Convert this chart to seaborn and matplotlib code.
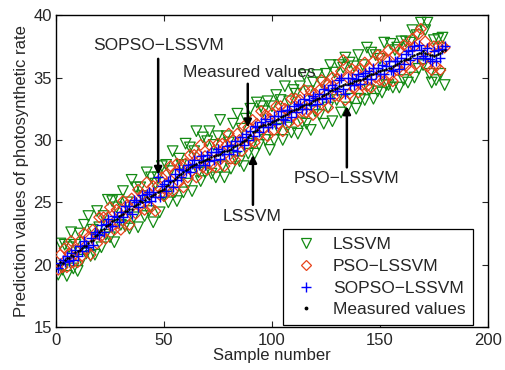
import numpy as np
import pandas as pd
import matplotlib
matplotlib.use("Agg")
import matplotlib.pyplot as plt
from matplotlib.lines import Line2D
import seaborn as sns

sample = list(range(1, 181))

measured = [
    20.0, 20.2, 20.1, 20.4, 20.5, 20.5, 20.8, 20.7, 21.0, 21.1,
    21.2, 21.3, 21.5, 21.5, 21.7, 21.9, 22.0, 22.3, 22.4, 22.6,
    22.8, 22.9, 23.1, 23.2, 23.3, 23.5, 23.6, 23.7, 23.9, 24.0,
    24.1, 24.3, 24.3, 24.5, 24.5, 24.7, 24.8, 24.9, 25.1, 25.0,
    25.2, 25.4, 25.3, 25.5, 25.6, 25.7, 25.8, 25.9, 26.0, 26.1,
    26.3, 26.4, 26.6, 26.7, 26.9, 27.0, 27.2, 27.3, 27.4, 27.6,
    27.7, 27.8, 27.9, 28.0, 28.1, 28.2, 28.2, 28.3, 28.4, 28.5,
    28.5, 28.6, 28.7, 28.8, 28.8, 28.9, 29.0, 29.1, 29.1, 29.2,
    29.3, 29.4, 29.5, 29.6, 29.7, 29.8, 29.9, 30.0, 30.2, 30.4,
    30.6, 30.7, 30.8, 31.0, 31.1, 31.2, 31.2, 31.3, 31.3, 31.4,
    31.5, 31.6, 31.7, 31.8, 31.9, 32.0, 32.1, 32.2, 32.3, 32.4,
    32.5, 32.5, 32.6, 32.7, 32.8, 32.9, 32.9, 33.0, 33.1, 33.2,
    33.3, 33.4, 33.5, 33.6, 33.7, 33.8, 33.9, 34.0, 34.1, 34.2,
    34.3, 34.3, 34.4, 34.5, 34.5, 34.6, 34.6, 34.7, 34.7, 34.8,
    34.8, 34.9, 35.0, 35.1, 35.2, 35.3, 35.3, 35.4, 35.5, 35.5,
    35.6, 35.6, 35.7, 35.8, 35.8, 35.9, 36.0, 36.1, 36.2, 36.3,
    36.4, 36.5, 36.5, 36.6, 36.7, 36.8, 36.9, 37.0, 37.0, 37.1,
    37.0, 36.9, 36.8, 36.8, 36.7, 36.8, 36.9, 37.0, 37.1, 37.2,
]

sopso_lssvm = [
    19.7, 20.1, 20.4, 20.2, 20.7, 20.3, 20.9, 20.4, 21.2, 20.7,
    21.5, 21.1, 21.9, 21.6, 21.4, 22.1, 21.6, 22.6, 22.5, 22.4,
    23.2, 22.6, 23.3, 23.7, 23.1, 23.1, 23.9, 23.8, 23.4, 24.2,
    23.8, 24.7, 24.2, 24.7, 24.1, 25.2, 25.0, 24.6, 25.2, 25.6,
    25.0, 25.7, 25.8, 25.1, 25.8, 25.4, 27.0, 25.4, 26.3, 26.5,
    25.9, 26.7, 26.8, 26.2, 27.3, 26.8, 27.7, 27.0, 27.6, 27.5,
    28.0, 27.4, 28.1, 28.4, 27.8, 28.0, 28.7, 28.4, 28.0, 28.8,
    28.3, 29.0, 28.4, 29.0, 29.3, 28.5, 29.1, 28.9, 29.5, 28.9,
    29.6, 29.2, 29.9, 29.1, 29.9, 30.2, 29.6, 30.5, 30.0, 30.7,
    30.3, 31.1, 31.0, 30.6, 31.4, 31.0, 31.7, 31.0, 31.5, 31.3,
    31.9, 31.3, 31.9, 32.3, 31.7, 31.6, 32.4, 32.4, 31.8, 32.7,
    32.2, 32.9, 32.8, 32.5, 33.3, 32.5, 33.2, 32.8, 33.5, 33.4,
    32.9, 33.7, 33.3, 34.1, 33.4, 34.0, 33.4, 34.4, 34.2, 33.9,
    34.8, 35.0, 34.1, 33.7, 35.0, 34.4, 35.0, 34.4, 34.9, 35.3,
    34.5, 35.1, 35.4, 34.9, 35.5, 34.9, 35.8, 35.3, 35.8, 35.3,
    36.0, 35.3, 35.9, 36.3, 35.6, 35.5, 36.3, 36.3, 35.7, 36.6,
    36.1, 36.9, 37.1, 36.4, 37.2, 37.5, 36.6, 37.6, 37.2, 36.7,
    36.6, 37.4, 36.5, 36.3, 37.1, 36.3, 37.2, 36.6, 37.3, 37.5,
]

pso_lssvm = [
    19.6, 20.8, 19.8, 21.3, 19.8, 20.9, 21.9, 20.2, 21.2, 20.2,
    21.9, 20.7, 22.5, 21.2, 22.2, 20.8, 22.8, 22.5, 21.7, 23.8,
    22.3, 23.8, 22.1, 23.8, 24.6, 23.1, 22.8, 24.4, 24.2, 22.8,
    25.1, 23.7, 24.8, 23.2, 25.3, 25.0, 24.1, 26.0, 24.7, 25.6,
    24.4, 26.6, 25.7, 24.6, 26.3, 24.3, 26.3, 25.6, 27.0, 25.5,
    27.2, 25.9, 27.9, 25.9, 27.3, 28.1, 26.6, 28.0, 26.2, 28.1,
    27.0, 28.8, 27.5, 28.8, 27.0, 28.8, 29.6, 27.8, 28.7, 27.6,
    29.6, 28.0, 29.1, 27.8, 29.7, 28.6, 29.7, 27.9, 29.6, 30.5,
    28.5, 30.0, 28.4, 30.5, 30.0, 29.1, 31.1, 29.5, 31.0, 30.0,
    31.6, 29.8, 31.3, 30.4, 32.3, 30.9, 32.0, 30.3, 31.7, 32.1,
    30.8, 32.7, 31.3, 32.7, 30.7, 32.5, 32.4, 31.4, 33.3, 31.9,
    33.3, 31.5, 33.2, 32.3, 34.0, 32.2, 33.3, 33.9, 32.0, 33.7,
    32.4, 34.0, 34.8, 33.1, 34.5, 32.6, 34.3, 35.0, 33.5, 34.9,
    33.5, 35.5, 36.4, 33.2, 35.0, 33.7, 35.7, 34.1, 35.5, 33.8,
    35.7, 34.4, 36.2, 34.3, 35.8, 34.2, 36.3, 35.0, 36.8, 34.8,
    36.7, 34.7, 36.4, 37.2, 35.2, 34.7, 36.8, 35.6, 37.2, 35.5,
    37.6, 35.9, 37.4, 35.6, 38.1, 37.5, 36.1, 38.5, 38.9, 36.4,
    37.9, 35.9, 37.3, 35.6, 37.5, 35.9, 37.5, 35.6, 37.5, 37.4,
]

lssvm = [
    19.2, 21.7, 19.6, 21.6, 19.1, 21.4, 22.6, 19.7, 21.6, 19.5,
    22.5, 20.4, 23.2, 20.9, 23.9, 20.7, 22.8, 20.8, 24.3, 23.0,
    21.4, 23.9, 22.4, 25.2, 22.2, 25.1, 21.8, 24.6, 25.2, 23.2,
    25.9, 23.1, 25.0, 22.9, 26.8, 23.8, 26.2, 23.0, 26.2, 25.5,
    23.9, 27.4, 24.3, 27.0, 23.4, 26.5, 27.0, 24.2, 27.9, 25.5,
    28.0, 25.0, 27.5, 29.1, 25.8, 25.1, 28.5, 28.0, 25.8, 29.7,
    26.5, 29.4, 25.9, 29.1, 30.7, 27.4, 26.7, 30.2, 27.4, 29.9,
    30.7, 27.3, 29.6, 27.0, 30.3, 31.6, 27.9, 27.0, 30.3, 29.8,
    27.7, 31.3, 28.6, 32.1, 28.3, 30.9, 27.9, 31.7, 28.9, 32.5,
    29.7, 28.9, 33.0, 29.6, 32.7, 32.3, 30.0, 33.1, 29.2, 32.7,
    30.0, 33.6, 30.9, 33.2, 30.0, 34.3, 31.0, 33.1, 30.6, 34.0,
    33.7, 30.5, 34.3, 31.4, 35.2, 31.3, 33.9, 30.8, 34.6, 32.3,
    35.2, 32.0, 34.6, 31.3, 35.3, 32.6, 36.0, 31.5, 35.4, 33.2,
    36.0, 32.2, 35.8, 36.6, 32.6, 36.2, 33.3, 35.9, 32.5, 36.8,
    33.3, 36.0, 33.2, 37.4, 34.0, 37.0, 33.3, 36.8, 33.9, 36.5,
    33.8, 37.8, 34.4, 34.4, 37.7, 34.2, 37.2, 37.4, 34.2, 37.9,
    34.8, 37.9, 34.6, 37.8, 38.8, 35.0, 38.4, 35.7, 39.4, 36.0,
    38.8, 39.4, 35.3, 34.6, 38.0, 34.8, 38.1, 35.3, 38.2, 34.4,
]

series_names = ["LSSVM", "PSO\u2212LSSVM", "SOPSO\u2212LSSVM", "Measured values"]
x_ticks = [0, 50, 100, 150, 200]
y_ticks = [15, 20, 25, 30, 35, 40]

sns.set_style("ticks")
plt.rcParams["font.family"] = ["Liberation Sans", "DejaVu Sans"]
plt.rcParams["xtick.direction"] = "in"
plt.rcParams["ytick.direction"] = "in"

fig = plt.figure(figsize=(5.05, 3.70), dpi=100)
ax = fig.add_axes([0.111, 0.116, 0.855, 0.843])

c_green = "#138a13"
c_red = "#e8421a"
c_blue = "#0000ff"

sns.scatterplot(x=sample, y=lssvm, marker="v", s=58, facecolor="none",
                edgecolor=c_green, linewidth=0.9, ax=ax, zorder=2)
sns.scatterplot(x=sample, y=pso_lssvm, marker="D", s=30, facecolor="none",
                edgecolor=c_red, linewidth=0.9, ax=ax, zorder=3)
sns.scatterplot(x=sample, y=sopso_lssvm, marker="+", s=50, color=c_blue,
                linewidth=1.0, ax=ax, zorder=4)
sns.scatterplot(x=sample, y=measured, marker=".", s=14, color="black",
                edgecolor="black", linewidth=0, ax=ax, zorder=5)

ax.set_xlim(0, 200)
ax.set_ylim(15, 40)
ax.set_xticks(x_ticks)
ax.set_yticks(y_ticks)
ax.tick_params(axis="both", labelsize=12, length=4, width=0.8,
               top=True, right=True, direction="in")
ax.tick_params(axis="x", pad=4)
ax.tick_params(axis="y", pad=3)
for sp in ax.spines.values():
    sp.set_visible(True)
    sp.set_linewidth(1.0)
    sp.set_color("black")
ax.set_xlabel("Sample number", fontsize=12, labelpad=0)
ax.set_ylabel("Prediction values of photosynthetic rate", fontsize=12, labelpad=3)

# annotations (text arrows)
arrow_kw = dict(arrowstyle="-|>", color="black", lw=1.8, mutation_scale=11,
                shrinkA=0, shrinkB=0)
ann = [
    ("SOPSO\u2212LSSVM", (47.7, 37.6), (47.3, 36.5), (47.3, 27.2)),
    ("Measured values", (89.4, 35.4), (88.8, 34.5), (88.8, 31.0)),
    ("LSSVM", (91.0, 23.9), (91.2, 24.8), (91.2, 28.8)),
    ("PSO\u2212LSSVM", (134.7, 26.9), (134.7, 27.8), (134.7, 32.7)),
]
for label, tpos, tail, tip in ann:
    ax.annotate("", xy=tip, xytext=tail, arrowprops=arrow_kw, zorder=6)
    ax.text(tpos[0], tpos[1], label, ha="center", va="center", fontsize=12.5, zorder=6)

handles = [
    Line2D([], [], marker="v", linestyle="none", markersize=7, markerfacecolor="none",
           markeredgecolor=c_green, markeredgewidth=0.9),
    Line2D([], [], marker="D", linestyle="none", markersize=5.5, markerfacecolor="none",
           markeredgecolor=c_red, markeredgewidth=0.9),
    Line2D([], [], marker="+", linestyle="none", markersize=7, color=c_blue,
           markeredgewidth=1.0),
    Line2D([], [], marker=".", linestyle="none", markersize=3.5, color="black"),
]
leg = ax.legend(handles, series_names, loc="lower right",
                bbox_to_anchor=(0.966, 0.006), borderaxespad=0, fontsize=12.5,
                frameon=True, fancybox=False, edgecolor="black", framealpha=1,
                handlelength=1.7, handletextpad=0.7, labelspacing=0.38,
                borderpad=0.45)
leg.get_frame().set_linewidth(0.9)

fig.savefig("out.png", dpi=100)
